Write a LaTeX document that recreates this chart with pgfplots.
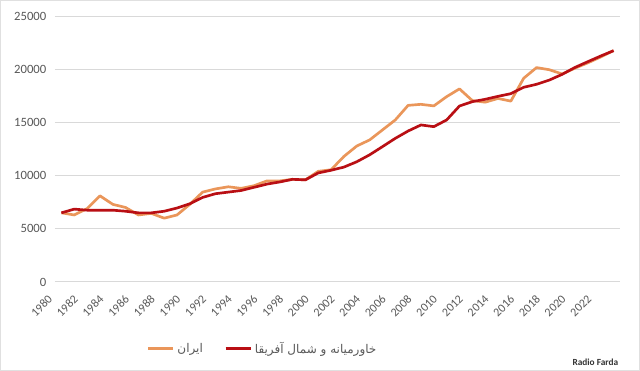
\documentclass[border=0pt]{standalone}
\usepackage{fontspec}
\setmainfont{Carlito}
\newfontfamily\arabicfont[Script=Arabic]{DejaVu Sans}
\TeXXeTstate=1
\usepackage{pgfplots}
\pgfplotsset{compat=1.18}
\definecolor{iran}{RGB}{234,150,90}
\definecolor{mena}{RGB}{185,15,20}
\definecolor{txt}{RGB}{89,89,89}
\pgfplotstableread{
year iran mena
1980 6500 6500
1981 6300 6850
1982 6900 6750
1983 8100 6750
1984 7300 6750
1985 7000 6650
1986 6300 6500
1987 6450 6500
1988 6000 6650
1989 6300 6950
1990 7300 7350
1991 8450 7950
1992 8750 8300
1993 8950 8450
1994 8800 8600
1995 9050 8900
1996 9500 9200
1997 9500 9400
1998 9650 9650
1999 9600 9600
2000 10400 10250
2001 10550 10500
2002 11800 10800
2003 12780 11300
2004 13350 11950
2005 14290 12720
2006 15230 13500
2007 16600 14190
2008 16700 14760
2009 16550 14600
2010 17420 15230
2011 18150 16540
2012 17050 16950
2013 16900 17170
2014 17250 17450
2015 17000 17700
2016 19150 18300
2017 20150 18580
2018 19950 18980
2019 19550 19520
2020 20100 20170
2021 20600 20710
2022 21150 21240
2023 21750 21740
}\datatable
\begin{document}
\begin{tikzpicture}[x=0.75pt,y=0.75pt]
\useasboundingbox (0,0) rectangle (640,371);
\fill[white] (0,0) rectangle (640,371);
\draw[black!12, line width=1.5pt] (0,0) rectangle (640,371);
\begin{axis}[
  at={(41.25pt,66.75pt)}, anchor=south west,
  scale only axis, width=423.75pt, height=199.5pt,
  xmin=1979.5, xmax=2023.5, ymin=0, ymax=25000,
  xtick={1980,1982,...,2022},
  ytick={0,5000,...,25000},
  scaled y ticks=false,
  /pgf/number format/assume math mode=true,
  xticklabel={\pgfmathprintnumber[1000 sep={}]{\tick}},
  yticklabel={\pgfmathprintnumber[1000 sep={}]{\tick}},
  ymajorgrids, major grid style={black!15, line width=0.75pt},
  axis line style={draw=none},
  major tick length=0pt,
  tick label style={font=\fontsize{9.5}{11}\selectfont, text=txt},
  yticklabel style={xshift=-3pt},
  xticklabel style={font=\fontsize{9}{10}\selectfont, xshift=-6pt, yshift=-9pt, rotate=45, anchor=east},
  legend columns=2,
  legend style={draw=none, fill=none, at={(0.368,-0.25)}, anchor=center,
    font=\fontsize{9}{11}\selectfont, text=txt,
    /tikz/every even column/.append style={column sep=14pt}},
  legend image code/.code={\draw[#1, line width=2pt] (0pt,0pt) -- (19pt,0pt);},
]
\addplot[iran, line width=2pt, line join=round] table[x=year, y=iran] {\datatable};
\addlegendentry{\arabicfont\beginR ایران\endR}
\addplot[mena, line width=2pt, line join=round] table[x=year, y=mena] {\datatable};
\addlegendentry{\arabicfont\beginR خاورمیانه و شمال آفریقا\endR}
\end{axis}
\node[anchor=east, font=\bfseries\fontsize{7}{8}\selectfont, text=black!80] at (623,9) {Radio Farda};
\end{tikzpicture}
\end{document}
